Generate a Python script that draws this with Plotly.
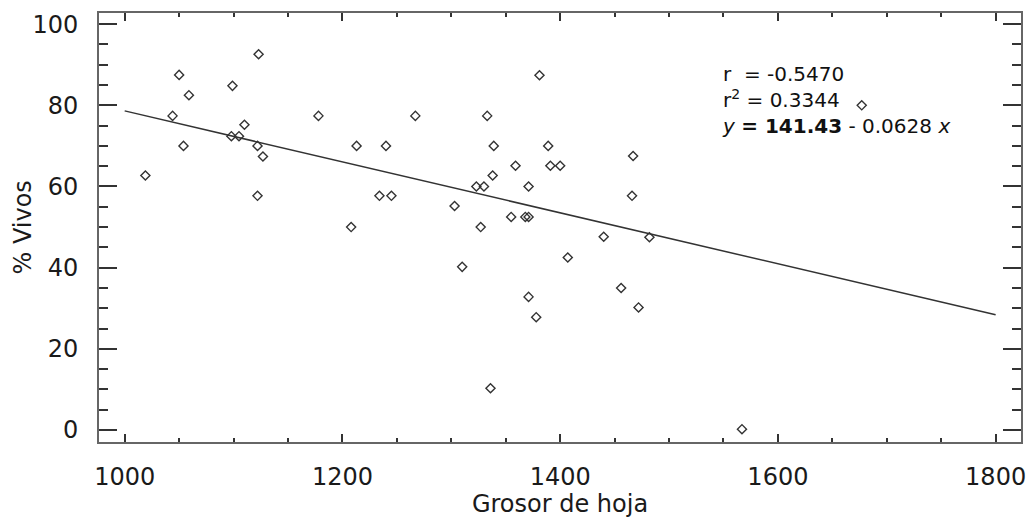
import plotly.graph_objects as go

# grosor de hoja vs % vivos
grosor = [1019, 1044, 1050, 1054, 1059, 1099, 1098, 1105, 1110, 1122,
          1123, 1127, 1122, 1178, 1208, 1213, 1234, 1240, 1245, 1267,
          1303, 1310, 1323, 1330, 1327, 1333, 1336, 1338, 1339, 1355,
          1359, 1368, 1371, 1371, 1371, 1378, 1381, 1389, 1391, 1400,
          1407, 1440, 1456, 1466, 1467, 1472, 1482, 1567, 1677]
vivos = [62.7, 77.4, 87.5, 70.0, 82.5, 84.8, 72.4, 72.4, 75.2, 70.0,
         92.6, 67.4, 57.7, 77.4, 50.0, 70.0, 57.7, 70.0, 57.7, 77.4,
         55.2, 40.2, 60.0, 60.0, 50.0, 77.4, 10.3, 62.7, 70.0, 52.5,
         65.1, 52.5, 52.5, 60.0, 32.8, 27.8, 87.4, 70.0, 65.1, 65.1,
         42.5, 47.6, 35.0, 57.7, 67.5, 30.2, 47.5, 0.2, 80.0]

# regression line as printed on the chart
fit_intercept = 141.43
fit_slope = -0.0628
line_x = [1000, 1800]
line_y = [fit_intercept + fit_slope * v for v in line_x]

stats_text = ("r  = -0.5470<br>"
              "r<sup>2</sup> = 0.3344<br>"
              "<i>y</i> <b>= 141.43</b> - 0.0628 <i>x</i>")

FONT = "DejaVu Sans"

fig = go.Figure()
fig.add_trace(go.Scatter(
    x=line_x, y=line_y, mode="lines",
    line=dict(color="#333333", width=1.5),
    showlegend=False, hoverinfo="skip"))
fig.add_trace(go.Scatter(
    x=grosor, y=vivos, mode="markers",
    marker=dict(symbol="diamond-open", size=7, color="#333333",
                line=dict(width=1.4, color="#333333")),
    showlegend=False))

fig.add_annotation(
    text=stats_text, xref="paper", yref="paper",
    x=0.6735, y=0.797, xanchor="left", yanchor="middle", align="left",
    showarrow=False, font=dict(family=FONT, size=20, color="#111111"))

# y title placed by hand so it sits where the original one is
fig.add_annotation(
    text="% Vivos", xref="paper", yref="paper",
    x=-0.0835, y=0.5, xanchor="center", yanchor="middle",
    textangle=-90, showarrow=False,
    font=dict(family=FONT, size=24, color="#1a1a1a"))

axis_common = dict(
    showgrid=False, zeroline=False, showline=True,
    linecolor="#666666", linewidth=2, mirror="ticks",
    ticks="inside", tickcolor="#333333",
    tickfont=dict(family=FONT, size=24, color="#1a1a1a"),
    title_font=dict(family=FONT, size=24, color="#1a1a1a"))

fig.update_xaxes(
    axis_common, range=[976.4, 1823.3], tick0=0, dtick=200,
    ticklen=8, tickwidth=1.5, ticklabelstandoff=12,
    minor=dict(dtick=50, tick0=0, ticks="inside", ticklen=4,
               tickwidth=1.5, tickcolor="#333333"),
    title=dict(text="Grosor de hoja", standoff=6))
fig.update_yaxes(
    axis_common, range=[-2.96, 102.75], tick0=0, dtick=20,
    ticklen=18, tickwidth=2, ticklabelstandoff=14,
    minor=dict(dtick=5, tick0=0, ticks="inside", ticklen=9,
               tickwidth=2, tickcolor="#333333"))

fig.update_layout(
    width=1031, height=518,
    margin=dict(l=99, r=10, t=13, b=76, autoexpand=False),
    plot_bgcolor="white", paper_bgcolor="white",
    font=dict(family=FONT))

# drop the browser's default page margin so the figure fills the window
fig.write_html("out.html", config={"displayModeBar": False},
               post_script="document.body.style.margin='0';"
                           "document.body.style.overflow='hidden';")
